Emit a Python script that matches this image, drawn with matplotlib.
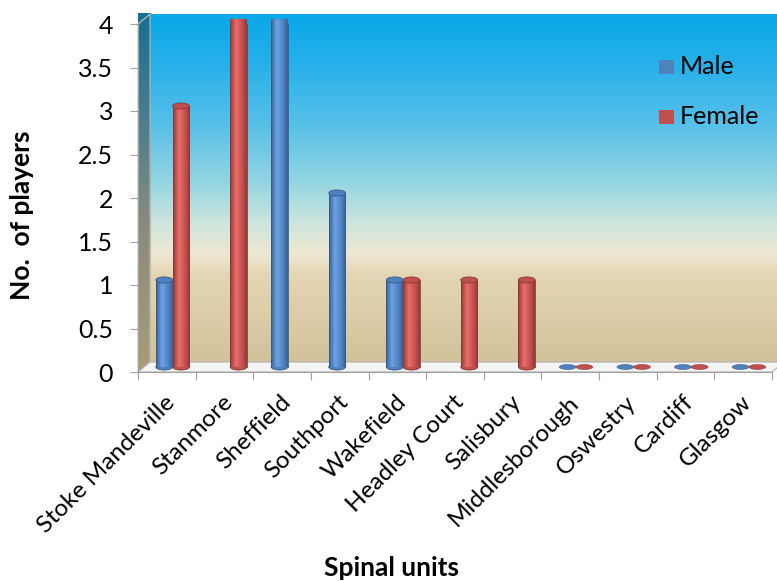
import numpy as np
import matplotlib.pyplot as plt
from matplotlib.colors import LinearSegmentedColormap, to_rgb
from matplotlib.patches import Polygon, Ellipse, Rectangle

# ----- data -----
units = ["Stoke Mandeville", "Stanmore", "Sheffield", "Southport", "Wakefield",
         "Headley Court", "Salisbury", "Middlesborough", "Oswestry", "Cardiff", "Glasgow"]
# None = blank cell (nothing drawn), 0 = zero (flat disc drawn)
male = [1, None, 4, 2, 1, None, None, 0, 0, 0, 0]
female = [3, 4, None, None, 1, 1, 1, 0, 0, 0, 0]
yticks = [0, 0.5, 1, 1.5, 2, 2.5, 3, 3.5, 4]
ytick_labels = ["0", "0.5", "1", "1.5", "2", "2.5", "3", "3.5", "4"]

blue = "#4f81bd"
red = "#c0504d"

plt.rcParams['font.family'] = ['Lato', 'DejaVu Sans']

fig = plt.figure(figsize=(7.77, 5.81), dpi=100)
ax = fig.add_axes([138 / 777, 209 / 581, 634 / 777, 348 / 581])
n = len(units)

# 3d depth offset in data units
dx, dy = 0.21, 0.115

# back wall gradient
wall = LinearSegmentedColormap.from_list("wall", [
    (0.0, "#d2c29a"), (0.25, "#e4d6b4"), (0.31, "#eee8d2"),
    (0.40, "#cde5dc"), (0.52, "#92d5e2"), (0.68, "#58c0e8"),
    (0.85, "#28b1ea"), (1.0, "#08a8e8")])
grad = np.linspace(0, 1, 256).reshape(-1, 1)
ax.imshow(grad, cmap=wall, origin="lower", aspect="auto",
          extent=[dx, n + dx, dy, 4 + dy], clip_on=False, zorder=0)

# left side wall
side = LinearSegmentedColormap.from_list("side", [
    (0.0, "#a89c78"), (0.4, "#8c8a7c"), (0.7, "#4a7e90"), (1.0, "#17708f")])
im = ax.imshow(grad, cmap=side, origin="lower", aspect="auto",
               extent=[0, dx, 0, 4 + dy], clip_on=False, zorder=0)
side_poly = Polygon([(0, 0), (dx, dy), (dx, 4 + dy), (0, 4)], closed=True,
                    facecolor="none", edgecolor="#c8c8c8", lw=0.8,
                    clip_on=False, zorder=1)
ax.add_patch(side_poly)
im.set_clip_path(side_poly)

# floor
floor = Polygon([(0, 0), (n, 0), (n + dx, dy), (dx, dy)], closed=True,
                facecolor="#f4f4f4", edgecolor="#b0b0b0", lw=0.8,
                clip_on=False, zorder=1)
ax.add_patch(floor)

# cylinders
bw = 0.29
base = dy / 2
cap_h = 0.07


def shade_cmap(c):
    r, g, b = to_rgb(c)
    dark = (r * 0.75, g * 0.75, b * 0.75)
    light = (min(1, r * 1.15 + 0.06), min(1, g * 1.15 + 0.06), min(1, b * 1.15 + 0.06))
    return LinearSegmentedColormap.from_list("cyl", [
        (0.0, dark), (0.35, light), (0.75, c), (1.0, dark)])


hgrad = np.linspace(0, 1, 64).reshape(1, -1)
for vals, col, off in [(male, blue, 0.31), (female, red, 0.60)]:
    cm = shade_cmap(col)
    r, g, b = to_rgb(col)
    edge = (r * 0.7, g * 0.7, b * 0.7)
    for i, v in enumerate(vals):
        if v is None:
            continue
        x0 = i + off
        xc = x0 + bw / 2
        if v > 0:
            rect = Rectangle((x0, base), bw, v, facecolor="none",
                             edgecolor="none", zorder=3)
            ax.add_patch(rect)
            img = ax.imshow(hgrad, cmap=cm, aspect="auto",
                            extent=[x0, x0 + bw, base, base + v], zorder=3)
            img.set_clip_path(rect)
            ax.add_patch(Ellipse((xc, base), bw, cap_h, facecolor=col,
                                 edgecolor=edge, lw=0.6, zorder=2.9))
            ax.plot([x0, x0], [base, base + v], color=edge, lw=0.6, zorder=3.1)
            ax.plot([x0 + bw, x0 + bw], [base, base + v], color=edge, lw=0.6, zorder=3.1)
            ax.add_patch(Ellipse((xc, base + v), bw, cap_h, facecolor=col,
                                 edgecolor=edge, lw=0.6, zorder=3.2))
        else:
            ax.add_patch(Ellipse((xc, base), bw, cap_h * 0.8, facecolor=col,
                                 edgecolor=edge, lw=0.4, zorder=3))

ax.set_xlim(0, n)
ax.set_ylim(0, 4)

# axes styling
for s in ["top", "right"]:
    ax.spines[s].set_visible(False)
ax.spines["left"].set_color("#a0a0a0")
ax.spines["bottom"].set_color("#a0a0a0")
ax.spines["left"].set_zorder(5)
ax.spines["bottom"].set_zorder(5)

ax.set_yticks(yticks)
ax.set_yticklabels(ytick_labels)
ax.tick_params(axis="y", length=6, color="#a0a0a0", labelsize=18, pad=12)

ax.set_xticks(np.arange(0, n + 1))
ax.set_xticklabels([])
ax.tick_params(axis="x", which="major", length=6, color="#a0a0a0")
ax.set_xticks(np.arange(n) + 0.46, minor=True)
ax.set_xticklabels(units, minor=True, rotation=45, ha="right", va="top",
                   rotation_mode="anchor", fontsize=17.5)
ax.tick_params(axis="x", which="minor", length=0, pad=14)

fig.text(22 / 777, 1 - 215 / 581, "No.  of players", fontsize=19,
         fontweight="bold", rotation=90, ha="center", va="center")
fig.text(392 / 777, 1 - 568 / 581, "Spinal units", fontsize=19,
         fontweight="bold", ha="center", va="center")

# legend
fig.patches.append(Rectangle((659 / 777, 1 - 74 / 581), 15 / 777, 14 / 581,
                             transform=fig.transFigure, facecolor=blue,
                             edgecolor="none"))
fig.patches.append(Rectangle((659 / 777, 1 - 124 / 581), 15 / 777, 14 / 581,
                             transform=fig.transFigure, facecolor=red,
                             edgecolor="none"))
fig.text(680 / 777, 1 - 67 / 581, "Male", fontsize=18, va="center")
fig.text(680 / 777, 1 - 117 / 581, "Female", fontsize=18, va="center")

fig.savefig("out.png", dpi=100)
